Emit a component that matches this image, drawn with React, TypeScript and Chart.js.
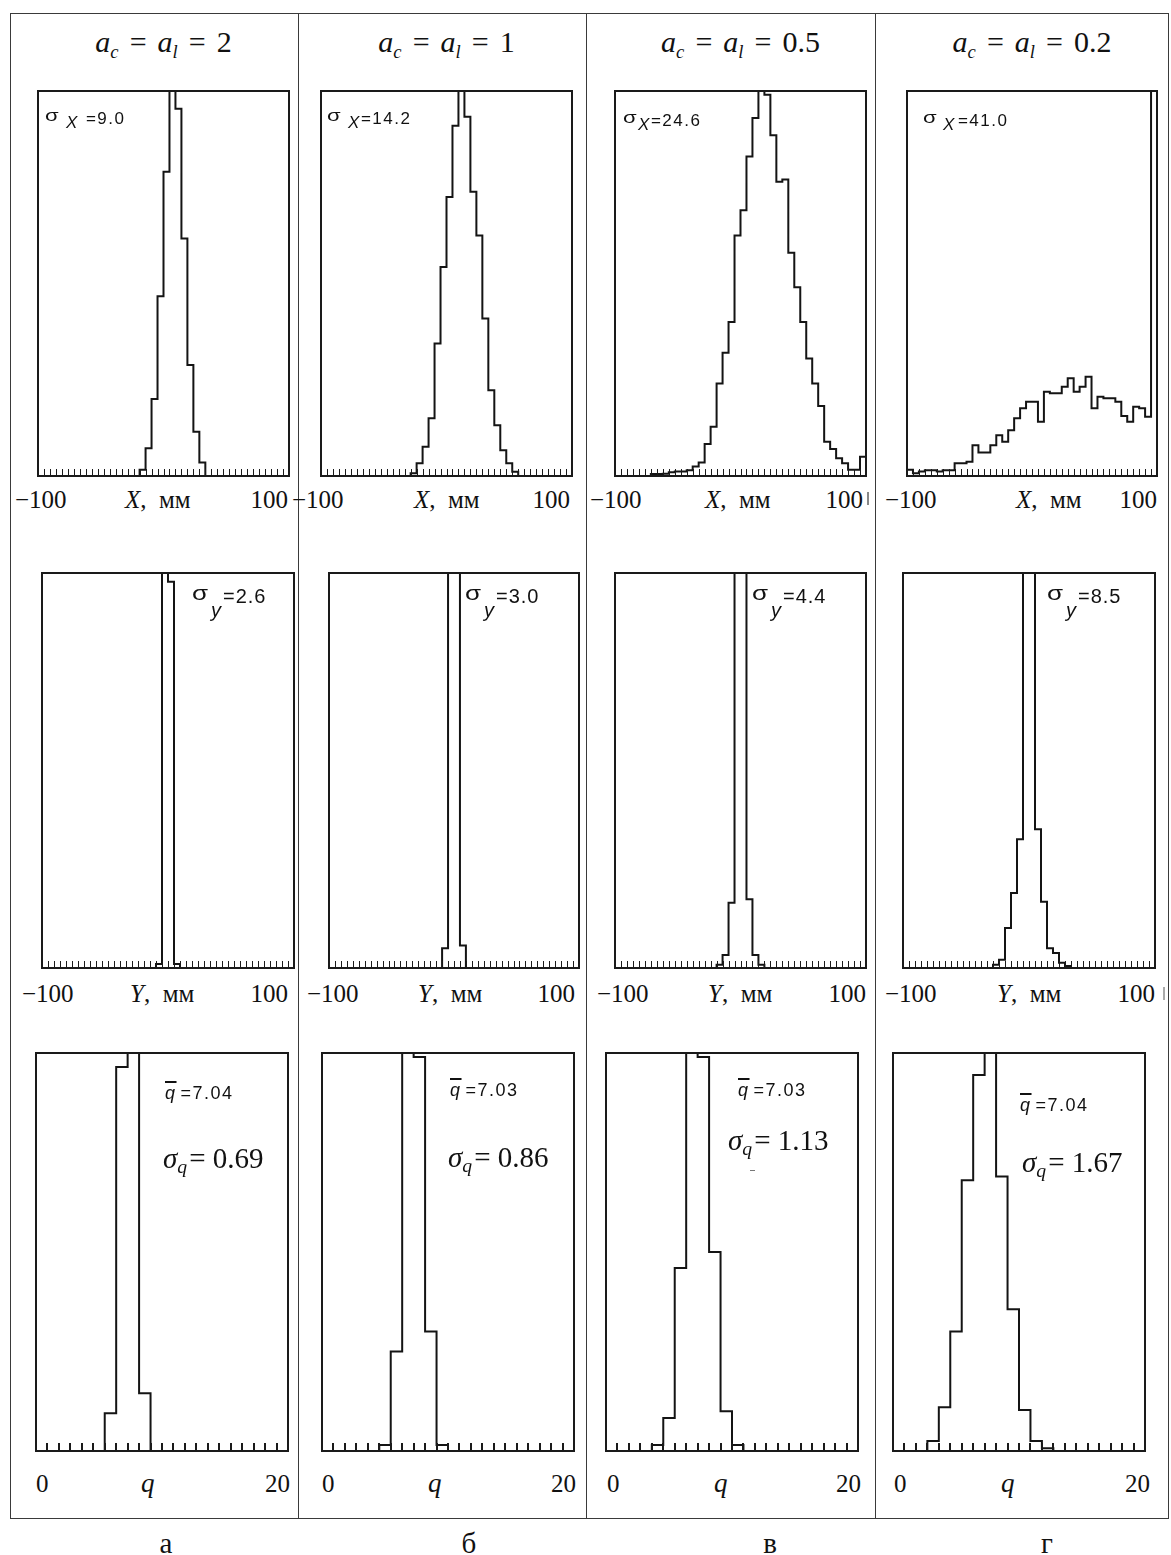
import React, { useEffect, useRef } from "react";
import { Chart, registerables } from "chart.js";

Chart.register(...registerables);

const SERIF = '"Liberation Serif", "Times New Roman", serif';
const SANS = '"Liberation Sans", Arial, sans-serif';

// ---------------- values ----------------
const headerValues = ["2", "1", "0.5", "0.2"];
const sigmaX = ["9.0", "14.2", "24.6", "41.0"];
const sigmaY = ["2.6", "3.0", "4.4", "8.5"];
const qMean = ["7.04", "7.03", "7.03", "7.04"];
const sigmaQ = ["0.69", "0.86", "1.13", "1.67"];
const captions = ["а", "б", "в", "г"];
const mmTickLabels = ["−100", "100"];
const qTickLabels = ["0", "20"];
const mmRange = [-100, 100];
const qRange = [0, 20];

// bar heights in % of the frame height (values > 100 run off the top)
// X and Y: 42 bins over [-100, 100] mm; q: 22 bins over [0, 20]
const xHistA = [
  0, 0, 0, 0, 0, 0, 0, 0, 0, 0,
  0, 0, 0, 0, 0, 0, 0, 1.6, 7.2, 20,
  46.7, 79, 130, 95.4, 61.7, 28.8, 11.5, 3.5, 0, 0,
  0, 0, 0, 0, 0, 0, 0, 0, 0, 0,
  0, 0,
];
const xHistB = [
  0, 0, 0, 0, 0, 0, 0, 0, 0, 0,
  0, 0, 0, 0, 0, 0.7, 3.3, 7.6, 15, 34.4,
  54.3, 72.5, 91, 130, 93.3, 73.8, 62.5, 40.9, 22.3, 13.2,
  6.7, 3.3, 1.1, 0, 0, 0, 0, 0, 0, 0,
  0, 0,
];
const xHistC = [
  0, 0, 0, 0, 0, 0, 0.5, 0.5, 0.6, 1,
  1.2, 1.2, 1.5, 2.5, 3.5, 8.3, 12.8, 24, 32, 40,
  62.5, 69, 83, 93, 130, 99, 88.5, 76.4, 77, 58,
  49, 40, 30.5, 24, 18.2, 8.9, 7, 4.6, 3.3, 1.6,
  1.6, 5,
];
const xHistD = [
  1.6, 0.7, 1.2, 1.5, 1.5, 1.2, 1.5, 1.5, 3.3, 3.3,
  3.7, 8, 6.1, 6.1, 8, 10.6, 8.9, 11.9, 15, 17.6,
  19.3, 19.3, 14.1, 21.9, 21.5, 21.5, 23.2, 25.4, 21.9, 23.2,
  25.8, 17.6, 20.6, 20.2, 20.2, 19.3, 15.6, 14.1, 18, 17.6,
  15.4, 130,
];

const yHistA = [
  0, 0, 0, 0, 0, 0, 0, 0, 0, 0,
  0, 0, 0, 0, 0, 0, 0, 0, 0, 1,
  130, 97.8, 1, 0, 0, 0, 0, 0, 0, 0,
  0, 0, 0, 0, 0, 0, 0, 0, 0, 0,
  0, 0,
];
const yHistB = [
  0, 0, 0, 0, 0, 0, 0, 0, 0, 0,
  0, 0, 0, 0, 0, 0, 0, 0, 0, 5,
  130, 130, 5.7, 0, 0, 0, 0, 0, 0, 0,
  0, 0, 0, 0, 0, 0, 0, 0, 0, 0,
  0, 0,
];
const yHistC = [
  0, 0, 0, 0, 0, 0, 0, 0, 0, 0,
  0, 0, 0, 0, 0, 0, 0, 0.8, 3.3, 16.5,
  130, 130, 17.4, 3.3, 0.8, 0, 0, 0, 0, 0,
  0, 0, 0, 0, 0, 0, 0, 0, 0, 0,
  0, 0,
];
const yHistD = [
  0, 0, 0, 0, 0, 0, 0, 0, 0, 0,
  0, 0, 0, 0, 0, 0.8, 2.1, 10.1, 19, 32.6,
  130, 130, 35.1, 16.8, 5, 3.8, 1.3, 0.5, 0, 0,
  0, 0, 0, 0, 0, 0, 0, 0, 0, 0,
  0, 0,
];

const qHistA = [0, 0, 0, 0, 0, 0, 9.5, 96.5, 130, 14.5, 0, 0, 0, 0, 0, 0, 0, 0, 0, 0, 0, 0];
const qHistB = [0, 0, 0, 0, 0, 1.5, 25, 130, 99, 30, 1.5, 0, 0, 0, 0, 0, 0, 0, 0, 0, 0, 0];
const qHistC = [0, 0, 0, 0, 1.5, 8.3, 46, 130, 99, 50, 10, 1.5, 0, 0, 0, 0, 0, 0, 0, 0, 0, 0];
const qHistD = [0, 0, 0, 2.5, 11, 30, 68, 94.5, 130, 69, 35.6, 10.3, 2.5, 0.7, 0, 0, 0, 0, 0, 0, 0, 0];

// ---------------- layout ----------------
const ROW1 = { t: 91, b: 476, label: 499 };
const ROW2 = { t: 573, b: 968, label: 993 };
const ROW3 = { t: 1053, b: 1451, label: 1483 };
const row1X = [[38, 289], [321, 572], [615, 866], [907, 1157]];
const row2X = [[42, 294], [329, 579], [615, 866], [903, 1155]];
const row3X = [[36, 288], [322, 574], [606, 858], [893, 1145]];

function makeFrame(edges: number[], tickLen: number, tickWidth: number) {
  return {
    id: "frame",
    afterDatasetsDraw(chart: any) {
      const { ctx, chartArea: a } = chart;
      const xs = chart.scales.x;
      ctx.save();
      ctx.strokeStyle = "#1a1a1a";
      ctx.lineWidth = tickWidth;
      for (const v of edges) {
        const px = Math.round(xs.getPixelForValue(v)) + (tickWidth % 2 ? 0.5 : 0);
        ctx.beginPath();
        ctx.moveTo(px, a.bottom);
        ctx.lineTo(px, a.bottom - tickLen);
        ctx.stroke();
      }
      ctx.lineWidth = 2;
      ctx.strokeRect(a.left, a.top, a.right - a.left, a.bottom - a.top);
      ctx.restore();
    },
  };
}

function Hist({ l, r, t, b, counts, range, tickLen, tickWidth }: any) {
  const ref = useRef<HTMLCanvasElement | null>(null);
  const pad = 4;
  const w = r - l + pad * 2;
  const h = b - t + pad * 2;
  useEffect(() => {
    const [min, max] = range;
    const n = counts.length;
    const bw = (max - min) / n;
    const first = counts.findIndex((c: number) => c > 0);
    let last = n - 1;
    while (last > first && counts[last] <= 0) last--;
    const pts: { x: number; y: number }[] = [{ x: min + first * bw, y: 0 }];
    for (let k = first; k <= last; k++) pts.push({ x: min + k * bw, y: counts[k] });
    pts.push({ x: min + (last + 1) * bw, y: 0 });
    const edges: number[] = [];
    for (let k = 1; k < n; k++) edges.push(min + k * bw);
    const chart = new Chart(ref.current as HTMLCanvasElement, {
      type: "line",
      data: {
        datasets: [
          {
            data: pts,
            stepped: true,
            borderColor: "#141414",
            borderWidth: 2,
            pointRadius: 0,
            fill: false,
            tension: 0,
          } as any,
        ],
      },
      options: {
        animation: false,
        responsive: false,
        maintainAspectRatio: false,
        devicePixelRatio: 1,
        events: [],
        layout: { padding: pad },
        scales: {
          x: { type: "linear", min, max, display: false },
          y: { type: "linear", min: 0, max: 100, display: false },
        },
        plugins: { legend: { display: false }, tooltip: { enabled: false } },
      } as any,
      plugins: [makeFrame(edges, tickLen, tickWidth)],
    });
    return () => chart.destroy();
  }, []);
  return (
    <canvas
      ref={ref}
      width={w}
      height={h}
      style={{ position: "absolute", left: l - pad, top: t - pad, width: w, height: h }}
    />
  );
}

function Txt({ x, y, size, family = SERIF, align = "left", children, style }: any) {
  const tx = align === "center" ? "translateX(-50%)" : align === "right" ? "translateX(-100%)" : "none";
  return (
    <div
      style={{
        position: "absolute",
        left: x,
        top: y - size * 0.5,
        fontSize: size,
        lineHeight: `${size}px`,
        fontFamily: family,
        whiteSpace: "nowrap",
        transform: tx,
        color: "#111",
        ...style,
      }}
    >
      {children}
    </div>
  );
}

const sub = (txt: string, top: string, scale = "0.62em") => (
  <span style={{ fontStyle: "italic", fontSize: scale, position: "relative", top }}>{txt}</span>
);

function Line({ x, y, w, h, color = "#3a3a3a" }: any) {
  return <div style={{ position: "absolute", left: x, top: y, width: w, height: h, background: color }} />;
}

function Sigma({ size, top }: any) {
  return (
    <span
      style={{
        display: "inline-block",
        fontSize: size,
        transform: "scaleX(1.3)",
        transformOrigin: "left center",
        position: "relative",
        top,
        marginRight: size * 0.18,
      }}
    >
      σ
    </span>
  );
}

// per-column positions of text pieces
const sxPos = [
  { s: 45, g1: 6, g2: 7, y: 118 },
  { s: 327, g1: 6, g2: 0, y: 118 },
  { s: 623, g1: 0, g2: 0, y: 120 },
  { s: 923, g1: 5, g2: 2, y: 120 },
];
const syPos = [192, 465, 752, 1047];
const qmPos = [
  { x: 165, y: 1093 },
  { x: 450, y: 1090 },
  { x: 738, y: 1090 },
  { x: 1020, y: 1105 },
];
const sqPos = [
  { x: 163, y: 1158 },
  { x: 448, y: 1157 },
  { x: 728, y: 1140 },
  { x: 1022, y: 1162 },
];
const row1Lab = [[15, 125, 288], [292, 414, 570], [590, 705, 863], [885, 1016, 1157]];
const row2Lab = [[22, 130, 288], [307, 418, 575], [597, 708, 866], [885, 997, 1155]];
const row3Lab = [[36, 141, 290], [322, 428, 576], [607, 714, 861], [894, 1001, 1150]];
const captionX = [166, 469, 770, 1047];

export default function App() {
  const xH = [xHistA, xHistB, xHistC, xHistD];
  const yH = [yHistA, yHistB, yHistC, yHistD];
  const qH = [qHistA, qHistB, qHistC, qHistD];
  return (
    <div
      style={{
        position: "absolute",
        left: 0,
        top: 0,
        width: 1171,
        height: 1555,
        background: "#fff",
        overflow: "hidden",
      }}
    >
      {/* table lines */}
      <Line x={10} y={13} w={1159} h={1} />
      <Line x={10} y={1518} w={1159} h={1} />
      <Line x={10} y={13} w={1} h={1506} />
      <Line x={1168} y={13} w={1} h={1506} />
      <Line x={298} y={13} w={1} h={1506} />
      <Line x={586} y={13} w={1} h={1506} />
      <Line x={875} y={13} w={1} h={1506} />

      {[0, 1, 2, 3].map((c) => (
        <React.Fragment key={c}>
          {/* header */}
          <Txt x={(row1X[c][0] + row1X[c][1]) / 2} y={42} size={30} align="center">
            <i>a</i>
            {sub("c", "0.3em")}
            <span style={{ margin: "0 11px" }}>=</span>
            <i>a</i>
            {sub("l", "0.3em")}
            <span style={{ margin: "0 11px" }}>=</span>
            {headerValues[c]}
          </Txt>

          {/* row 1 : X */}
          <Hist l={row1X[c][0]} r={row1X[c][1]} t={ROW1.t} b={ROW1.b} counts={xH[c]} range={mmRange} tickLen={7} tickWidth={1} />
          <Txt x={sxPos[c].s} y={sxPos[c].y} size={17} family={SANS} style={{ letterSpacing: "1.5px" }}>
            <Sigma size={17} top={-3} />
            <span style={{ marginLeft: sxPos[c].g1, position: "relative", top: 4, fontStyle: "italic" }}>X</span>
            <span style={{ marginLeft: sxPos[c].g2 }}>={sigmaX[c]}</span>
          </Txt>
          <Txt x={row1Lab[c][0]} y={ROW1.label} size={25}>{mmTickLabels[0]}</Txt>
          <Txt x={row1Lab[c][1]} y={ROW1.label} size={25}>
            <i>X</i>,&nbsp; мм
          </Txt>
          <Txt x={row1Lab[c][2]} y={ROW1.label} size={25} align="right">{mmTickLabels[1]}</Txt>

          {/* row 2 : Y */}
          <Hist l={row2X[c][0]} r={row2X[c][1]} t={ROW2.t} b={ROW2.b} counts={yH[c]} range={mmRange} tickLen={7} tickWidth={1} />
          <Txt x={syPos[c]} y={596} size={20} family={SANS} style={{ letterSpacing: "1px" }}>
            <Sigma size={20} top={-3} />
            <span style={{ marginLeft: 2, position: "relative", top: 14, fontStyle: "italic" }}>y</span>
            <span style={{ marginLeft: 1 }}>={sigmaY[c]}</span>
          </Txt>
          <Txt x={row2Lab[c][0]} y={ROW2.label} size={25}>{mmTickLabels[0]}</Txt>
          <Txt x={row2Lab[c][1]} y={ROW2.label} size={25}>
            <i>Y</i>,&nbsp; мм
          </Txt>
          <Txt x={row2Lab[c][2]} y={ROW2.label} size={25} align="right">{mmTickLabels[1]}</Txt>

          {/* row 3 : q */}
          <Hist l={row3X[c][0]} r={row3X[c][1]} t={ROW3.t} b={ROW3.b} counts={qH[c]} range={qRange} tickLen={8} tickWidth={2} />
          <Txt x={qmPos[c].x} y={qmPos[c].y} size={18} family={SANS} style={{ letterSpacing: "1.5px" }}>
            <span style={{ fontStyle: "italic", textDecoration: "overline", textDecorationThickness: "2px" }}>q</span>
            <span style={{ marginLeft: 4 }}>={qMean[c]}</span>
          </Txt>
          <Txt x={sqPos[c].x} y={sqPos[c].y} size={29}>
            <i>σ</i>
            {sub("q", "0.3em", "0.68em")}
            <span style={{ marginLeft: 2 }}>=</span> {sigmaQ[c]}
          </Txt>
          <Txt x={row3Lab[c][0]} y={ROW3.label} size={25}>{qTickLabels[0]}</Txt>
          <Txt x={row3Lab[c][1]} y={ROW3.label} size={27}>
            <i>q</i>
          </Txt>
          <Txt x={row3Lab[c][2]} y={ROW3.label} size={25} align="right">{qTickLabels[1]}</Txt>

          {/* captions */}
          <Txt x={captionX[c]} y={1543} size={29} align="center">{captions[c]}</Txt>
        </React.Fragment>
      ))}

      {/* small scan marks */}
      <Line x={867} y={492} w={2} h={13} color="#888" />
      <Line x={1163} y={987} w={2} h={13} color="#aaa" />
      <Line x={750} y={1170} w={5} h={1} color="#777" />
    </div>
  );
}
